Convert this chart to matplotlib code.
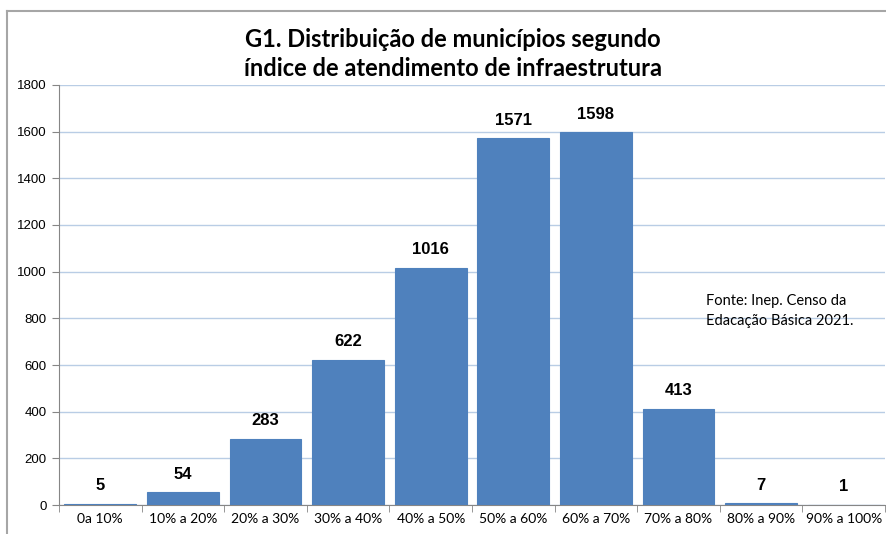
import numpy as np
import matplotlib.pyplot as plt
from matplotlib.lines import Line2D

categories = ["0a 10%", "10% a 20%", "20% a 30%", "30% a 40%", "40% a 50%",
              "50% a 60%", "60% a 70%", "70% a 80%", "80% a 90%", "90% a 100%"]
counts = [5, 54, 283, 622, 1016, 1571, 1598, 413, 7, 1]

title = "G1. Distribuição de municípios segundo\níndice de atendimento de infraestrutura"
source = "Fonte: Inep. Censo da\nEdacação Básica 2021."

bar_color = '#4f81bd'
grid_color = '#b9cde5'
axis_color = '#868686'

fig = plt.figure(figsize=(8.87, 5.34), dpi=100)
ax = fig.add_axes([59/887, 1-505/534, (885-59)/887, (505-85)/534])

x_pos = np.arange(len(categories))
ax.bar(x_pos, counts, width=0.87, color=bar_color, edgecolor=bar_color,
       linewidth=0.8, zorder=3)

ax.set_xlim(-0.5, len(categories)-0.5)
ax.set_ylim(0, 1800)
ax.set_yticks(np.arange(0, 1801, 200))
ax.yaxis.grid(True, color=grid_color, linewidth=1.0, zorder=0)
ax.tick_params(axis='y', direction='out', length=5, color=axis_color, labelsize=9.5, pad=4)
for lab in ax.get_yticklabels():
    lab.set_family('Liberation Sans')

# category labels centred, ticks on the boundaries
ax.set_xticks(x_pos)
ax.set_xticklabels(categories, fontsize=10, family='Lato')
ax.tick_params(axis='x', which='major', length=0, pad=6)
ax.set_xticks(np.arange(-0.5, len(categories)), minor=True)
ax.tick_params(axis='x', which='minor', direction='out', length=5, color=axis_color)

for s in ['top', 'right']:
    ax.spines[s].set_visible(False)
ax.spines['left'].set_color(axis_color)
ax.spines['bottom'].set_color(axis_color)

for i, v in enumerate(counts):
    ax.text(i, v + 45, str(v), ha='center', va='bottom', fontsize=12,
            fontweight='bold', family='Liberation Sans', zorder=4)

fig.text(453/887, 1-54/534, title, ha='center', va='center', fontsize=17,
         fontweight='bold', family='Lato', linespacing=1.3)

fig.text(706/887, 1-311/534, source, ha='left', va='center', fontsize=10.5,
         family='Lato', linespacing=1.5)

# chart frame (top and left edges visible in crop)
fig.add_artist(Line2D([7/887, 7/887], [0, 1-11/534], transform=fig.transFigure,
                      color='#a6a6a6', linewidth=1.5))
fig.add_artist(Line2D([7/887, 1], [1-11/534, 1-11/534], transform=fig.transFigure,
                      color='#a6a6a6', linewidth=1.5))

plt.savefig("out.png", dpi=100)
